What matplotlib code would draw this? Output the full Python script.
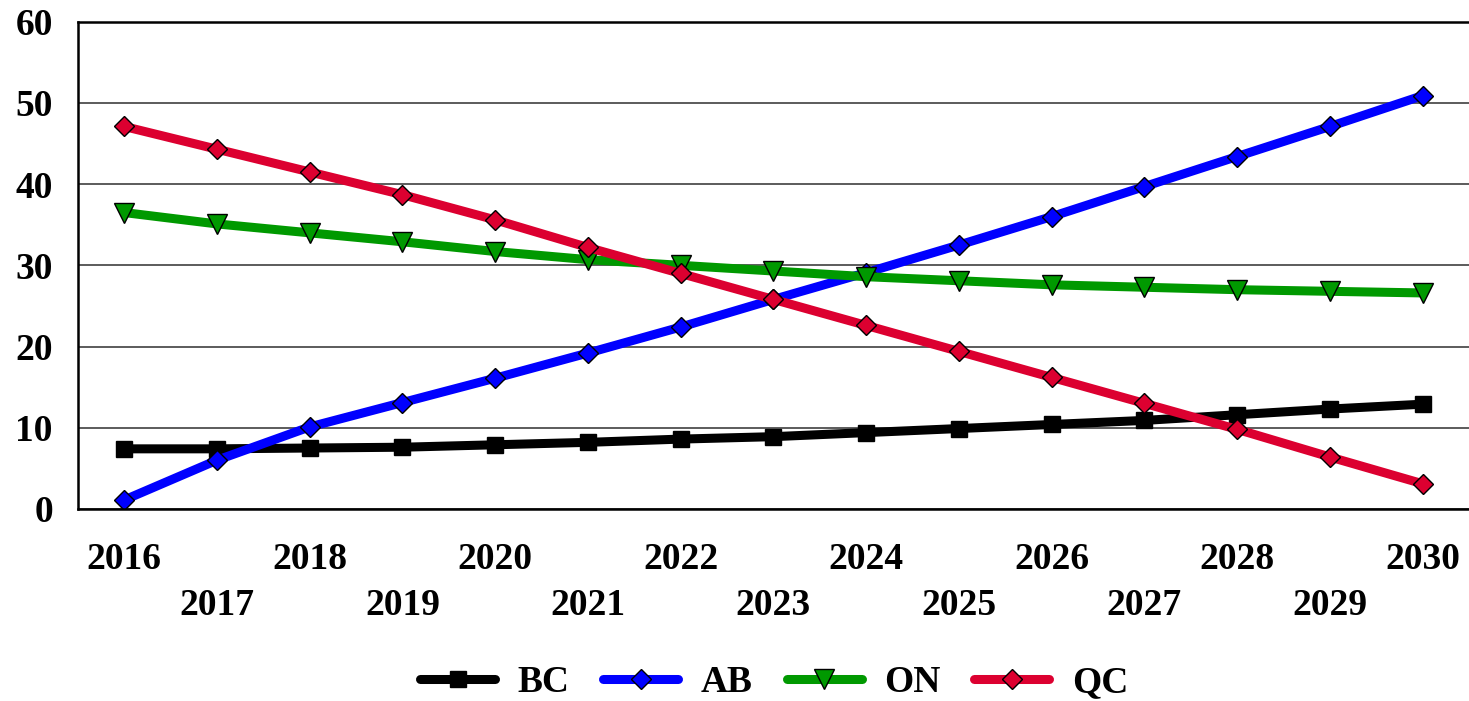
import matplotlib.pyplot as plt

years = list(range(2016, 2031))
bc = [7.4, 7.4, 7.5, 7.6, 7.9, 8.2, 8.6, 8.9, 9.4, 9.9, 10.4, 10.9, 11.6, 12.3, 12.9]
ab = [1.1, 6.0, 10.1, 13.1, 16.1, 19.2, 22.4, 25.8, 29.1, 32.5, 36.0, 39.7, 43.4, 47.1, 50.9]
on = [36.5, 35.1, 34.0, 32.9, 31.7, 30.7, 30.0, 29.3, 28.6, 28.1, 27.6, 27.3, 27.0, 26.8, 26.6]
qc = [47.1, 44.3, 41.5, 38.7, 35.6, 32.2, 29.0, 25.8, 22.6, 19.4, 16.2, 13.0, 9.8, 6.4, 3.1]

plt.rcParams['font.family'] = ['Liberation Serif', 'DejaVu Serif']
plt.rcParams['font.weight'] = 'bold'

fig = plt.figure(figsize=(14.69, 7.01), dpi=100)
ax = fig.add_axes([0.053, 0.274, 0.947, 0.695])

lw = 6.5
ax.plot(years, bc, color='black', lw=lw, marker='s', ms=12,
        mfc='black', mec='black', label='BC', solid_capstyle='round')
ax.plot(years, ab, color='#0000FF', lw=lw, marker='D', ms=10,
        mfc='#0000FF', mec='black', mew=1, label='AB', solid_capstyle='round')
ax.plot(years, on, color='#009900', lw=lw, marker='v', ms=14,
        mfc='#009900', mec='black', mew=1, label='ON', solid_capstyle='round')
ax.plot(years, qc, color='#DC0030', lw=lw, marker='D', ms=10,
        mfc='#DC0030', mec='black', mew=1, label='QC', solid_capstyle='round')

ax.set_xlim(2015.5, 2030.5)
ax.set_ylim(0, 60)
ax.set_yticks(range(0, 61, 10))
ax.set_xticks(years)
# odd years sit on a second row below the even ones
ax.set_xticklabels([str(y) if y % 2 == 0 else '\n' + str(y) for y in years],
                   linespacing=1.38)
ax.tick_params(axis='both', length=0, labelsize=27)
ax.tick_params(axis='y', pad=18)
ax.tick_params(axis='x', pad=24)

ax.grid(axis='y', color='#404040', lw=1.2)
ax.set_axisbelow(True)
for side in ['left', 'bottom', 'top']:
    ax.spines[side].set_linewidth(1.8)
    ax.spines[side].set_color('black')
ax.spines['right'].set_visible(False)

fig.legend(loc='center', bbox_to_anchor=(0.527, 1 - 683 / 701), ncol=4,
           frameon=False, fontsize=27, handlelength=2.0, columnspacing=0.9,
           handletextpad=0.6)

fig.savefig('out.png', dpi=100)
